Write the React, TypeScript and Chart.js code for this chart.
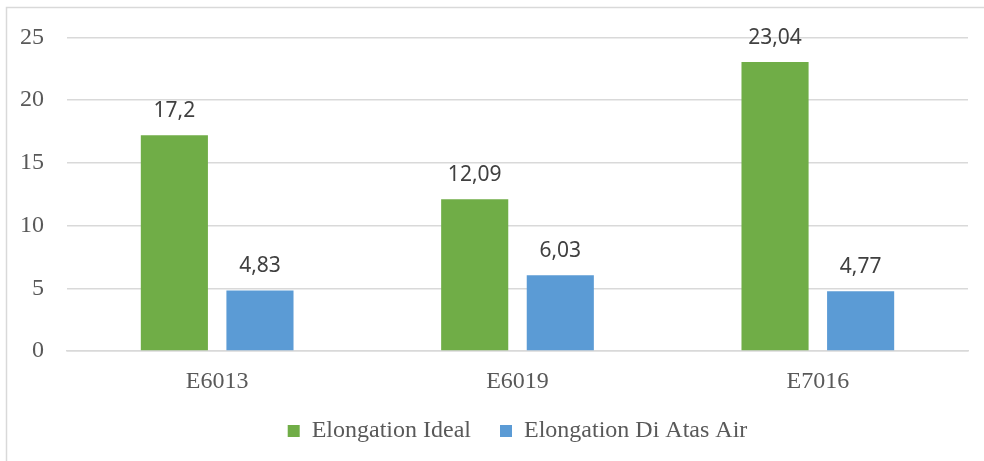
import React, { useEffect, useRef } from "react";
import { Chart, registerables } from "chart.js";

Chart.register(...registerables);

const categories = ["E6013", "E6019", "E7016"];
const idealValues = [17.2, 12.09, 23.04];
const atasAirValues = [4.83, 6.03, 4.77];
const seriesNames = ["Elongation Ideal", "Elongation Di Atas Air"];

const SERIF = "'Liberation Serif', 'Times New Roman', serif";
const SANS = "'Noto Sans', 'Open Sans', sans-serif";

const dataLabelPlugin = {
  id: "dataLabels",
  afterDatasetsDraw(chart: any) {
    const ctx = chart.ctx;
    ctx.save();
    ctx.font = `21px ${SANS}`;
    ctx.fillStyle = "#404040";
    ctx.textAlign = "center";
    ctx.textBaseline = "alphabetic";
    chart.data.datasets.forEach((ds: any, i: number) => {
      const meta = chart.getDatasetMeta(i);
      meta.data.forEach((bar: any, j: number) => {
        const v = ds.data[j];
        ctx.fillText(String(v).replace(".", ","), bar.x, bar.y - 18);
      });
    });
    ctx.restore();
  },
};

const framePlugin = {
  id: "frame",
  beforeDraw(chart: any) {
    const ctx = chart.ctx;
    ctx.save();
    ctx.strokeStyle = "#D9D9D9";
    ctx.lineWidth = 1.5;
    ctx.beginPath();
    ctx.moveTo(6.5, chart.height);
    ctx.lineTo(6.5, 7.5);
    ctx.lineTo(chart.width, 7.5);
    ctx.stroke();
    ctx.restore();
  },
};

export default function App() {
  const ref = useRef<HTMLCanvasElement>(null);
  useEffect(() => {
    if (!ref.current) return;
    const chart = new Chart(ref.current, {
      type: "bar",
      data: {
        labels: categories,
        datasets: [
          {
            label: seriesNames[0],
            data: idealValues,
            backgroundColor: "#70AD47",
            categoryPercentage: 0.57,
            barPercentage: 0.784,
          },
          {
            label: seriesNames[1],
            data: atasAirValues,
            backgroundColor: "#5B9BD5",
            categoryPercentage: 0.57,
            barPercentage: 0.784,
          },
        ],
      },
      options: {
        animation: false,
        responsive: true,
        maintainAspectRatio: false,
        layout: { padding: { left: 0, right: 16, top: 37, bottom: 8 } },
        plugins: {
          tooltip: { enabled: false },
          legend: {
            position: "bottom",
            fullSize: false,
            labels: {
              boxWidth: 12,
              boxHeight: 12,
              padding: 29,
              color: "#595959",
              font: { family: SERIF, size: 24 },
            },
          },
        },
        scales: {
          x: {
            grid: { display: false, drawTicks: false },
            border: { display: true, color: "#D9D9D9", width: 1.5 },
            ticks: {
              color: "#595959",
              font: { family: SERIF, size: 24 },
              padding: 16,
            },
            afterFit(scale: any) {
              scale.height = 39;
            },
          },
          y: {
            min: 0,
            max: 25,
            ticks: {
              stepSize: 5,
              color: "#595959",
              font: { family: SERIF, size: 24 },
              padding: 23,
            },
            grid: { color: "#D9D9D9", lineWidth: 1.5, drawTicks: false },
            border: { display: false },
            afterFit(scale: any) {
              scale.width = 67;
            },
          },
        },
      },
      plugins: [dataLabelPlugin, framePlugin],
    });
    return () => chart.destroy();
  }, []);
  return (
    <div style={{ position: "absolute", left: 0, top: 0, width: 984, height: 461, background: "#fff" }}>
      <canvas ref={ref} />
    </div>
  );
}
